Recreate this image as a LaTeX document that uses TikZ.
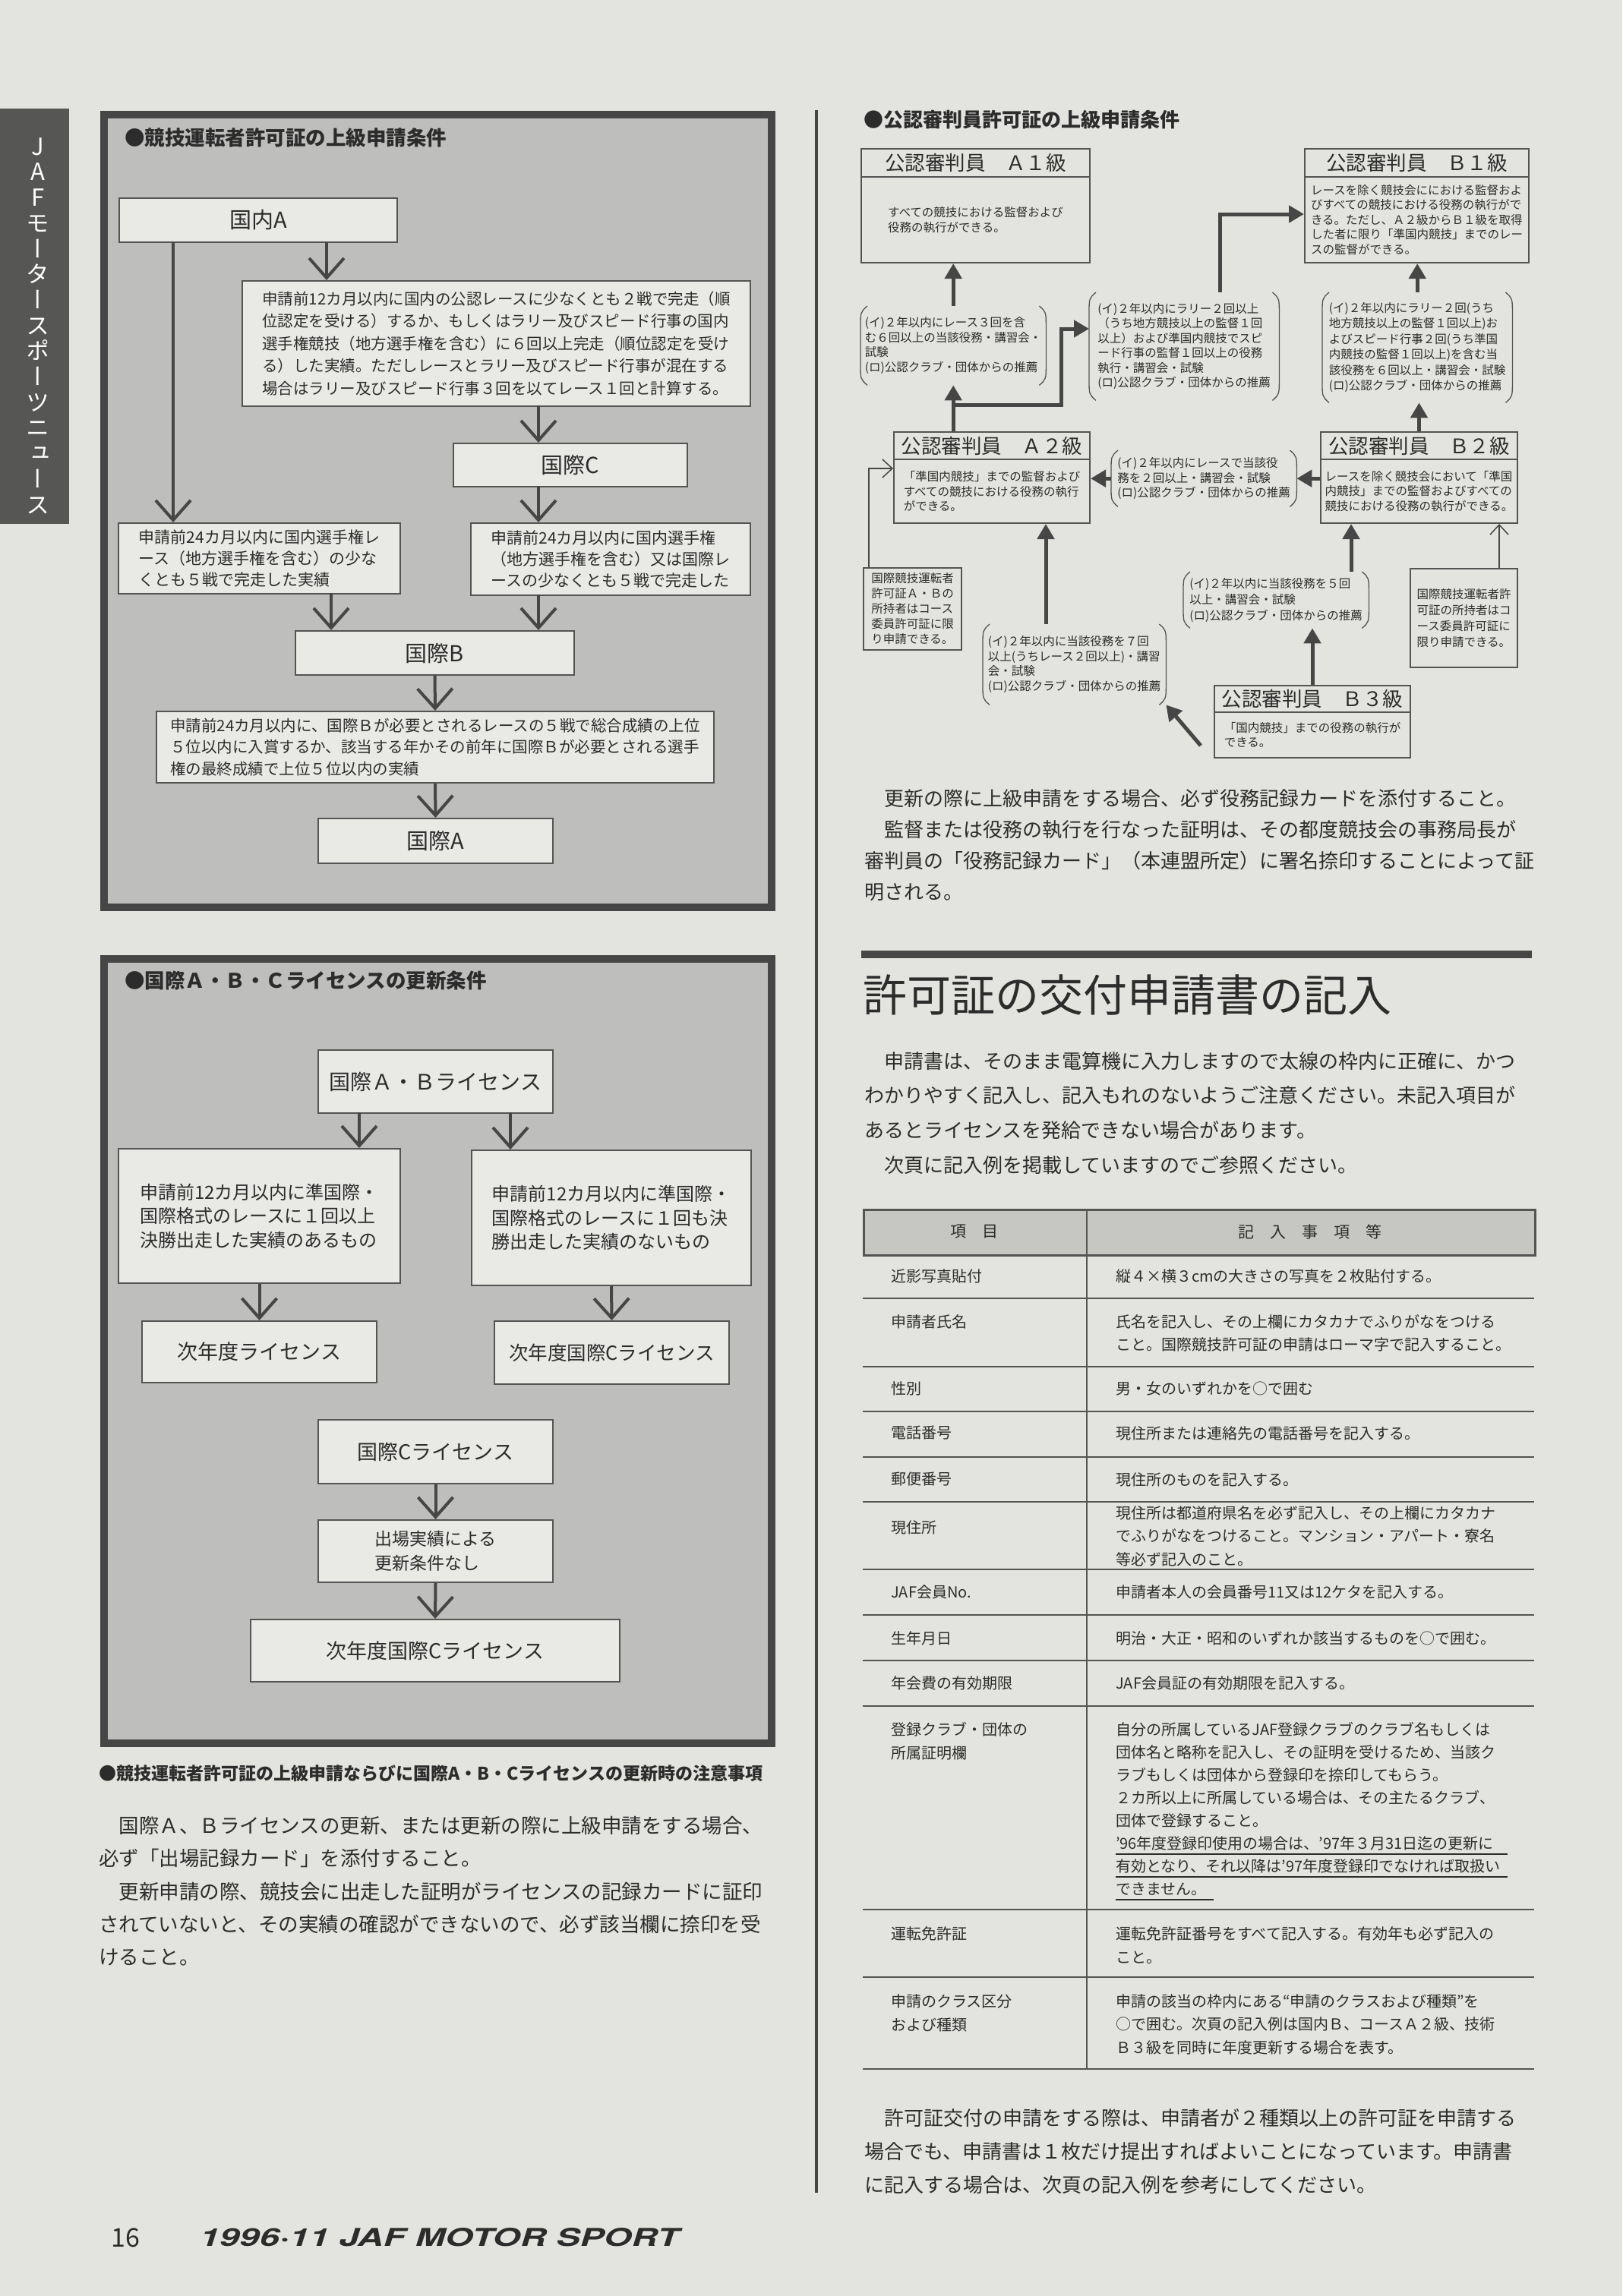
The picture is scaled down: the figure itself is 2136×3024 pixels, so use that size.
\documentclass[tikz,border=0pt]{standalone}
\usepackage{fontspec}
\usepackage{graphicx}
\setmainfont{Noto Sans CJK JP}
\newfontfamily\herosfont{TeX Gyre Heros}
\usetikzlibrary{arrows.meta}
\newcommand\fsz[2]{\fontsize{#1}{#2}\selectfont}
\definecolor{paper}{RGB}{227,227,223}
\definecolor{panel}{RGB}{190,190,188}
\definecolor{frame}{RGB}{70,70,70}
\definecolor{boxfill}{RGB}{233,233,230}
\definecolor{ink}{RGB}{44,44,44}
\definecolor{lineclr}{RGB}{84,84,84}
\definecolor{hdrfill}{RGB}{198,198,195}
\definecolor{bannerc}{RGB}{86,86,84}
\tikzset{
  panelbox/.style={draw=frame, line width=10pt, fill=panel, inner sep=0pt, anchor=north west},
  pbox/.style={draw=lineclr, line width=2pt, fill=boxfill, inner sep=0pt, text=ink, align=left, anchor=north west},
  lbl/.style={font=\fsz{29}{34}},
  varr/.style={draw=frame, line width=4pt, -{Straight Barb[length=26pt,width=46pt]}},
  rbox/.style={draw=lineclr, line width=2pt, inner sep=0pt, text=ink, align=left, anchor=north west, font=\fsz{15.5}{19.5}},
  rhdr/.style={draw=lineclr, line width=2pt, inner sep=0pt, text=ink, anchor=north west, font=\fsz{26.5}{30}},
  brk/.style={inner sep=0pt, text=ink, align=left, anchor=north west, font=\fsz{15.5}{19.5}},
  brkline/.style={draw=lineclr, line width=1.3pt},
  fat/.style={draw=frame, line width=5pt, -{Triangle[length=20pt,width=22pt]}},
  thinarr/.style={draw=frame, line width=1.5pt, -{Straight Barb[length=13pt,width=24pt]}},
  txt/.style={inner sep=0pt, anchor=north west, align=left, text=ink},
  ttl/.style={inner sep=0pt, anchor=west, text=ink},
  tline/.style={draw=lineclr, line width=2pt},
  uline/.style={draw=ink, line width=1.5pt},
}
\newcommand\drawparens[1]{%
  \draw[brkline] ([xshift=9pt]#1.north west) .. controls ([yshift=-8pt]#1.north west) .. ([yshift=-28pt]#1.north west) -- ([yshift=28pt]#1.south west) .. controls ([yshift=8pt]#1.south west) .. ([xshift=9pt]#1.south west);
  \draw[brkline] ([xshift=-9pt]#1.north east) .. controls ([yshift=-8pt]#1.north east) .. ([yshift=-28pt]#1.north east) -- ([yshift=28pt]#1.south east) .. controls ([yshift=8pt]#1.south east) .. ([xshift=-9pt]#1.south east);}
\begin{document}
\begin{tikzpicture}[x=1pt,y=-1pt]
\useasboundingbox (0,0) rectangle (2136,3024);
\fill[paper] (0,0) rectangle (2136,3024);

% side banner
\node[fill=bannerc, minimum width=91pt, minimum height=547pt, anchor=north west, inner sep=0pt] (banner) at (0,143) {};
\node[text=white, align=center, inner sep=0pt, font=\fsz{31}{33.7}\addfontfeatures{RawFeature=+vert}] (bannertxt) at (50,429) {J\\A\\F\\モ\\ー\\タ\\ー\\ス\\ポ\\ー\\ツ\\ニ\\ュ\\ー\\ス};

% ===== panel 1 =====
\node[panelbox, minimum width=879pt, minimum height=1044pt] (panel1) at (132,146) {};
\node[ttl, font=\bfseries\fsz{26.5}{30}] (p1t) at (164,181) {●競技運転者許可証の上級申請条件};
\node[pbox, lbl, minimum width=366pt, minimum height=58pt] (kA) at (156,260) {国内A};
\node[pbox, font=\fsz{20.5}{29.5}, minimum width=669pt, minimum height=165pt] (bx2) at (318,369) {申請前12カ月以内に国内の公認レースに少なくとも２戦で完走（順\\位認定を受ける）するか、もしくはラリー及びスピード行事の国内\\選手権競技（地方選手権を含む）に６回以上完走（順位認定を受け\\る）した実績。ただしレースとラリー及びスピード行事が混在する\\場合はラリー及びスピード行事３回を以てレース１回と計算する。};
\node[pbox, lbl, minimum width=308pt, minimum height=57pt] (kC) at (596,583) {国際C};
\node[pbox, font=\fsz{21}{28}, minimum width=371pt, minimum height=93pt] (bL) at (155,688) {申請前24カ月以内に国内選手権レ\\ース（地方選手権を含む）の少な\\くとも５戦で完走した実績};
\node[pbox, font=\fsz{21}{28}, minimum width=368pt, minimum height=95pt] (bR) at (619,688) {申請前24カ月以内に国内選手権\\（地方選手権を含む）又は国際レ\\ースの少なくとも５戦で完走した};
\node[pbox, lbl, minimum width=367pt, minimum height=58pt] (kB) at (388,830) {国際B};
\node[pbox, font=\fsz{20.5}{28.5}, minimum width=734pt, minimum height=94pt] (b5) at (205,936) {申請前24カ月以内に、国際Ｂが必要とされるレースの５戦で総合成績の上位\\５位以内に入賞するか、該当する年かその前年に国際Ｂが必要とされる選手\\権の最終成績で上位５位以内の実績};
\node[pbox, lbl, minimum width=309pt, minimum height=59pt] (kAA) at (418,1077) {国際A};

\coordinate (r1) at (228,319);
\coordinate (r2) at (430,319);
\coordinate (r3) at (709,534);
\coordinate (r4) at (709,640);
\coordinate (r5) at (436,781);
\coordinate (r6) at (709,783);
\draw[varr] (r1) -- (r1 |- bL.north);
\draw[varr] (r2) -- (r2 |- bx2.north);
\draw[varr] (r3) -- (r3 |- kC.north);
\draw[varr] (r4) -- (r4 |- bR.north);
\draw[varr] (r5) -- (r5 |- kB.north);
\draw[varr] (r6) -- (r6 |- kB.north);
\draw[varr] (kB.south) -- (b5.north);
\draw[varr] (b5.south) -- (kAA.north);

% ===== panel 2 =====
\node[panelbox, minimum width=879pt, minimum height=1033pt] (panel2) at (132,1258) {};
\node[ttl, font=\bfseries\fsz{26.5}{30}] (p2t) at (164,1291) {●国際Ａ・Ｂ・Ｃライセンスの更新条件};
\node[pbox, font=\fsz{28}{32}, minimum width=309pt, minimum height=83pt] (ab) at (418,1382) {国際Ａ・Ｂライセンス};
\node[pbox, font=\fsz{24}{31.5}, minimum width=371pt, minimum height=177pt] (bL2) at (155,1512) {申請前12カ月以内に準国際・\\国際格式のレースに１回以上\\決勝出走した実績のあるもの};
\node[pbox, font=\fsz{24}{31.5}, minimum width=368pt, minimum height=178pt] (bR2) at (620,1514) {申請前12カ月以内に準国際・\\国際格式のレースに１回も決\\勝出走した実績のないもの};
\node[pbox, font=\fsz{27}{30}, minimum width=309pt, minimum height=81pt] (nx1) at (186,1739) {次年度ライセンス};
\node[pbox, font=\fsz{25.5}{30}, minimum width=309pt, minimum height=83pt] (nx2) at (650,1739) {次年度国際Cライセンス};
\node[pbox, font=\fsz{27}{30}, minimum width=309pt, minimum height=84pt] (iC) at (418,1869) {国際Cライセンス};
\node[pbox, font=\fsz{23}{32}, minimum width=309pt, minimum height=82pt] (ss) at (418,2001) {出場実績による\\更新条件なし};
\node[pbox, font=\fsz{27}{30}, minimum width=486pt, minimum height=82pt] (nx3) at (329,2132) {次年度国際Cライセンス};

\coordinate (s1) at (473,1465);
\coordinate (s2) at (672,1465);
\draw[varr] (s1) -- (s1 |- bL2.north);
\draw[varr] (s2) -- (s2 |- bR2.north);
\draw[varr] (bL2.south) -- (nx1.north);
\draw[varr] (bR2.south) -- (nx2.north);
\draw[varr] (iC.south) -- (ss.north);
\draw[varr] (ss.south) -- (nx3.north);

% notes below panel 2
\node[ttl, font=\bfseries\fsz{23}{26}] (note) at (130,2336) {●競技運転者許可証の上級申請ならびに国際A・B・Cライセンスの更新時の注意事項};
\node[txt, font=\fsz{26.5}{43.3}] (lp) at (130,2392) {　国際Ａ、Ｂライセンスの更新、または更新の際に上級申請をする場合、\\必ず「出場記録カード」を添付すること。\\　更新申請の際、競技会に出走した証明がライセンスの記録カードに証印\\されていないと、その実績の確認ができないので、必ず該当欄に捺印を受\\けること。};

% column divider
\draw[draw=frame, line width=4pt] (1075,145) -- (1075,2888);

% footer
\node[ttl, font=\fsz{34}{36}] (pg) at (146,2947) {16};
\node[ttl] (mag) at (263,2947) {\resizebox{631pt}{24pt}{\herosfont\bfseries\itshape 1996·11 JAF MOTOR SPORT}};

% ===== right diagram =====
\node[ttl, font=\bfseries\fsz{26}{30}] (rt) at (1137,158) {●公認審判員許可証の上級申請条件};

\node[rhdr, minimum width=301pt, minimum height=37pt] (a1h) at (1133,195) {公認審判員　Ａ１級};
\node[rbox, minimum width=301pt, minimum height=113pt] (a1b) at (1133,232) {すべての競技における監督および\\役務の執行ができる。};
\node[rhdr, minimum width=295pt, minimum height=37pt] (b1h) at (1717,195) {公認審判員　Ｂ１級};
\node[rbox, minimum width=295pt, minimum height=113pt] (b1b) at (1717,232) {レースを除く競技会ににおける監督およ\\びすべての競技における役務の執行がで\\きる。ただし、Ａ２級からＢ１級を取得\\した者に限り「準国内競技」までのレー\\スの監督ができる。};
\node[rhdr, minimum width=258pt, minimum height=36pt] (a2h) at (1176,568) {公認審判員　Ａ２級};
\node[rbox, minimum width=258pt, minimum height=84pt] (a2b) at (1176,604) {「準国内競技」までの監督および\\すべての競技における役務の執行\\ができる。};
\node[rhdr, minimum width=259pt, minimum height=36pt] (b2h) at (1738,568) {公認審判員　Ｂ２級};
\node[rbox, minimum width=259pt, minimum height=84pt] (b2b) at (1738,604) {レースを除く競技会において「準国\\内競技」までの監督およびすべての\\競技における役務の執行ができる。};
\node[rhdr, minimum width=258pt, minimum height=35pt] (b3h) at (1598,902) {公認審判員　Ｂ３級};
\node[rbox, minimum width=258pt, minimum height=60pt] (b3b) at (1598,937) {「国内競技」までの役務の執行が\\できる。};

\node[brk, minimum width=244pt, minimum height=104pt] (c1) at (1133,403) {(イ)２年以内にレース３回を含\\む６回以上の当該役務・講習会・\\試験\\(ロ)公認クラブ・団体からの推薦};
\node[brk, minimum width=250pt, minimum height=142pt] (c2) at (1434,385) {(イ)２年以内にラリー２回以上\\（うち地方競技以上の監督１回\\以上）および準国内競技でスピ\\ード行事の監督１回以上の役務\\執行・講習会・試験\\(ロ)公認クラブ・団体からの推薦};
\node[brk, font=\fsz{15.5}{20.5}, minimum width=250pt, minimum height=145pt] (c3) at (1741,385) {(イ)２年以内にラリー２回(うち\\地方競技以上の監督１回以上)お\\よびスピード行事２回(うち準国\\内競技の監督１回以上)を含む当\\該役務を６回以上・講習会・試験\\(ロ)公認クラブ・団体からの推薦};
\node[brk, minimum width=244pt, minimum height=74pt] (c4) at (1463,593) {(イ)２年以内にレースで当該役\\務を２回以上・講習会・試験\\(ロ)公認クラブ・団体からの推薦};
\node[brk, minimum width=241pt, minimum height=106pt] (c5) at (1294,822) {(イ)２年以内に当該役務を７回\\以上(うちレース２回以上)・講習\\会・試験\\(ロ)公認クラブ・団体からの推薦};
\node[brk, font=\fsz{15.5}{21}, minimum width=244pt, minimum height=74pt] (c6) at (1558,753) {(イ)２年以内に当該役務を５回\\以上・講習会・試験\\(ロ)公認クラブ・団体からの推薦};
\drawparens{c1}
\drawparens{c2}
\drawparens{c3}
\drawparens{c4}
\drawparens{c5}
\drawparens{c6}

\node[rbox, font=\fsz{15.5}{20}, minimum width=129pt, minimum height=108pt] (sL) at (1136,747) {国際競技運転者\\許可証Ａ・Ｂの\\所持者はコース\\委員許可証に限\\り申請できる。};
\node[rbox, font=\fsz{15.5}{21}, minimum width=141pt, minimum height=130pt] (sR) at (1856,748) {国際競技運転者許\\可証の所持者はコ\\ース委員許可証に\\限り申請できる。};

\coordinate (j1) at (1255,533);
\coordinate (j2) at (1397,433);
\coordinate (k1) at (1606,385);
\coordinate (k2) at (1606,282);
\coordinate (m1) at (1377,822);
\coordinate (d1) at (1581,982);
\coordinate (n1) at (1779,753);
\coordinate (p1) at (1144,747);
\coordinate (p2) at (1144,617);
\coordinate (q1) at (1974,748);
\draw[fat] (c1.north) -- (c1.north |- a1b.south);
\draw[fat] (c1.south |- a2h.north) -- (c1.south);
\draw[fat] (j1) -| (j2) -- (j2 -| c2.west);
\draw[fat] (k1) -- (k2) -- (k2 -| b1b.west);
\draw[fat] (c3.north) -- (c3.north |- b1b.south);
\draw[fat] (b2h.north) -- (b2h.north |- c3.south);
\draw[fat] (c4.west) -- (c4.west -| a2b.east);
\draw[fat] (c4.east -| b2b.west) -- (c4.east);
\draw[fat] (m1) -- (m1 |- a2b.south);
\draw[fat] (d1) -- (c5.south east);
\draw[fat] (b3h.north) -- (b3h.north |- c6.south);
\draw[fat] (n1) -- (n1 |- b2b.south);
\draw[thinarr] (p1) -- (p2) -- (p2 -| a2b.west);
\draw[thinarr] (q1) -- (q1 |- b2b.south);

% ===== right text =====
\node[txt, font=\fsz{26}{41.3}] (rp1) at (1138,1039) {　更新の際に上級申請をする場合、必ず役務記録カードを添付すること。\\　監督または役務の執行を行なった証明は、その都度競技会の事務局長が\\審判員の「役務記録カード」（本連盟所定）に署名捺印することによって証\\明される。};
\node[fill=frame, minimum width=883pt, minimum height=10pt, inner sep=0pt, anchor=north west] (rule) at (1134,1252) {};
\node[ttl, font=\fsz{58}{64}] (head) at (1136,1311) {許可証の交付申請書の記入};
\node[txt, font=\fsz{26}{45.7}] (rp2) at (1138,1385) {　申請書は、そのまま電算機に入力しますので太線の枠内に正確に、かつ\\わかりやすく記入し、記入もれのないようご注意ください。未記入項目が\\あるとライセンスを発給できない場合があります。\\　次頁に記入例を掲載していますのでご参照ください。};

% ===== table =====
\node[draw=lineclr, line width=2.5pt, fill=hdrfill, minimum width=884pt, minimum height=60pt, anchor=north west, inner sep=0pt] (thead) at (1136,1592) {};
\node[text=ink, inner sep=0pt, font=\fsz{21}{24}] (th1) at (1283,1622) {項　目};
\node[text=ink, inner sep=0pt, font=\fsz{21}{24}] (th2) at (1725,1622) {記　入　事　項　等};
\draw[tline] (1431,1592) -- (1431,2725);
\foreach \yy in {1710,1800,1859,1919,1978,2067,2127,2187,2247,2515,2604,2725}
  \draw[tline] (1136,\yy) -- (2020,\yy);

\node[txt, font=\fsz{20}{31}] (t1a) at (1173,1671) {近影写真貼付};
\node[txt, font=\fsz{20}{30}] (t1b) at (1469,1671) {縦４×横３cmの大きさの写真を２枚貼付する。};
\node[txt, font=\fsz{20}{31}] (t2a) at (1173,1731) {申請者氏名};
\node[txt, font=\fsz{20}{30}] (t2b) at (1469,1731) {氏名を記入し、その上欄にカタカナでふりがなをつける\\こと。国際競技許可証の申請はローマ字で記入すること。};
\node[txt, font=\fsz{20}{31}] (t3a) at (1173,1819) {性別};
\node[txt, font=\fsz{20}{30}] (t3b) at (1469,1819) {男・女のいずれかを○で囲む};
\node[txt, font=\fsz{20}{31}] (t4a) at (1173,1878) {電話番号};
\node[txt, font=\fsz{20}{30}] (t4b) at (1469,1878) {現住所または連絡先の電話番号を記入する。};
\node[txt, font=\fsz{20}{31}] (t5a) at (1173,1939) {郵便番号};
\node[txt, font=\fsz{20}{30}] (t5b) at (1469,1939) {現住所のものを記入する。};
\node[txt, font=\fsz{20}{31}] (t6a) at (1173,2002) {現住所};
\node[txt, font=\fsz{20}{30.5}] (t6b) at (1469,1983) {現住所は都道府県名を必ず記入し、その上欄にカタカナ\\でふりがなをつけること。マンション・アパート・寮名\\等必ず記入のこと。};
\node[txt, font=\fsz{20}{31}] (t7a) at (1173,2087) {JAF会員No.};
\node[txt, font=\fsz{20}{30}] (t7b) at (1469,2087) {申請者本人の会員番号11又は12ケタを記入する。};
\node[txt, font=\fsz{20}{31}] (t8a) at (1173,2148) {生年月日};
\node[txt, font=\fsz{20}{30}] (t8b) at (1469,2148) {明治・大正・昭和のいずれか該当するものを○で囲む。};
\node[txt, font=\fsz{20}{31}] (t9a) at (1173,2207) {年会費の有効期限};
\node[txt, font=\fsz{20}{30}] (t9b) at (1469,2207) {JAF会員証の有効期限を記入する。};
\node[txt, font=\fsz{20}{31}] (t10a) at (1173,2268) {登録クラブ・団体の\\所属証明欄};
\node[txt, font=\fsz{20}{30}] (t10b) at (1469,2268) {自分の所属しているJAF登録クラブのクラブ名もしくは\\団体名と略称を記入し、その証明を受けるため、当該ク\\ラブもしくは団体から登録印を捺印してもらう。\\２カ所以上に所属している場合は、その主たるクラブ、\\団体で登録すること。\\’96年度登録印使用の場合は、’97年３月31日迄の更新に\\有効となり、それ以降は’97年度登録印でなければ取扱い\\できません。};
\draw[uline] (1469,2442) -- (1985,2442);
\draw[uline] (1469,2472) -- (1985,2472);
\draw[uline] (1469,2502) -- (1598,2502);
\node[txt, font=\fsz{20}{31}] (t11a) at (1173,2537) {運転免許証};
\node[txt, font=\fsz{20}{31}] (t11b) at (1469,2537) {運転免許証番号をすべて記入する。有効年も必ず記入の\\こと。};
\node[txt, font=\fsz{20}{31}] (t12a) at (1173,2626) {申請のクラス区分\\および種類};
\node[txt, font=\fsz{20}{30.5}] (t12b) at (1469,2626) {申請の該当の枠内にある“申請のクラスおよび種類”を\\○で囲む。次頁の記入例は国内Ｂ、コースＡ２級、技術\\Ｂ３級を同時に年度更新する場合を表す。};

\node[txt, font=\fsz{26}{44}] (rp3) at (1138,2777) {　許可証交付の申請をする際は、申請者が２種類以上の許可証を申請する\\場合でも、申請書は１枚だけ提出すればよいことになっています。申請書\\に記入する場合は、次頁の記入例を参考にしてください。};
\end{tikzpicture}
\end{document}
